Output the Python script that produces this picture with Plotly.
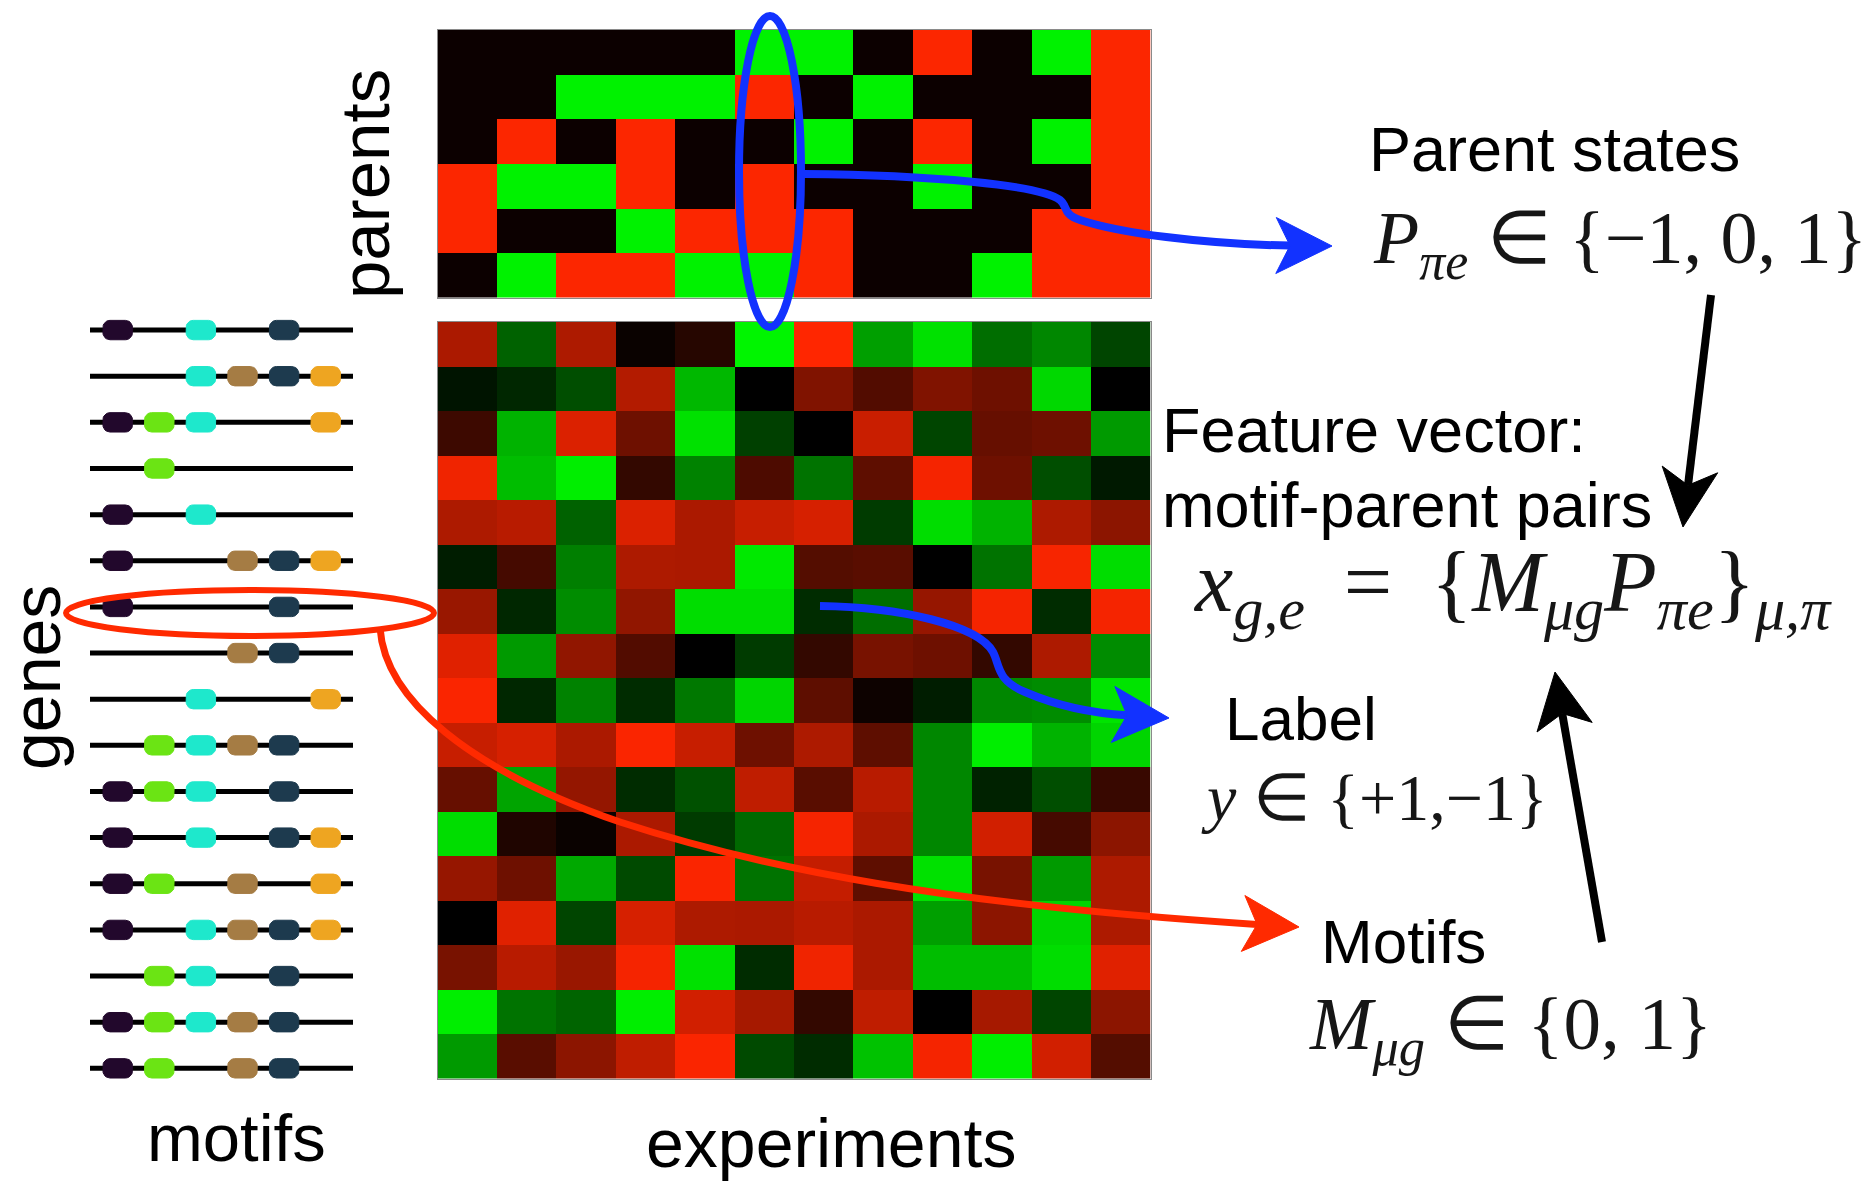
import math
import plotly.graph_objects as go

W, H = 1874, 1181

# ---------------- data ----------------
EXPERIMENTS = list(range(12))
PARENTS = list(range(6))
GENES = list(range(17))

# discrete parent states: -1 (repressed), 0 (neutral), 1 (induced)
PARENT_STATES = [
    [0, 0, 0, 0, 0, 1, 1, 0, -1, 0, 1, -1],
    [0, 0, 1, 1, 1, -1, 0, 1, 0, 0, 0, -1],
    [0, -1, 0, -1, 0, 0, 1, 0, -1, 0, 1, -1],
    [-1, 1, 1, -1, 0, -1, 0, 0, 1, 0, 0, -1],
    [-1, 0, 0, 1, -1, -1, -1, 0, 0, 0, -1, -1],
    [0, 1, -1, -1, 1, 1, -1, 0, 0, 1, -1, -1],
]

# gene expression (genes x experiments), negative = red, positive = green
EXPRESSION = [
    [-0.67, 0.40, -0.68, -0.04, -0.15, 1.00, -1.00, 0.65, 0.92, 0.45, 0.55, 0.28],
    [0.08, 0.16, 0.32, -0.70, 0.75, 0.00, -0.50, -0.32, -0.50, -0.43, 0.88, 0.00],
    [-0.24, 0.73, -0.86, -0.43, 0.92, 0.26, 0.00, -0.79, 0.28, -0.40, -0.43, 0.63],
    [-0.94, 0.77, 0.97, -0.20, 0.53, -0.30, 0.47, -0.37, -0.96, -0.43, 0.32, 0.10],
    [-0.68, -0.72, 0.40, -0.86, -0.67, -0.78, -0.84, 0.24, 0.90, 0.73, -0.68, -0.55],
    [0.12, -0.27, 0.52, -0.68, -0.67, 0.95, -0.33, -0.35, 0.00, 0.47, -0.97, 0.90],
    [-0.60, 0.16, 0.57, -0.57, 0.90, 0.90, 0.18, 0.45, -0.59, -0.96, 0.18, -0.96],
    [-0.88, 0.63, -0.57, -0.32, 0.00, 0.24, -0.20, -0.47, -0.43, -0.20, -0.68, 0.57],
    [-0.98, 0.16, 0.53, 0.18, 0.49, 0.87, -0.37, -0.05, 0.12, 0.55, 0.57, 0.93],
    [-0.78, -0.84, -0.67, -0.98, -0.78, -0.43, -0.68, -0.37, 0.55, 0.97, 0.73, 0.87],
    [-0.40, 0.67, -0.58, 0.18, 0.33, -0.75, -0.35, -0.72, 0.55, 0.14, 0.32, -0.22],
    [0.90, -0.12, -0.04, -0.67, 0.24, 0.43, -0.96, -0.67, 0.55, -0.82, -0.27, -0.55],
    [-0.59, -0.43, 0.69, 0.30, -0.98, 0.47, -0.77, -0.37, 0.92, -0.47, 0.63, -0.68],
    [0.00, -0.88, 0.28, -0.84, -0.68, -0.67, -0.72, -0.67, 0.65, -0.55, 0.87, -0.68],
    [-0.47, -0.72, -0.60, -0.96, 0.92, 0.18, -0.94, -0.67, 0.77, 0.77, 0.90, -0.88],
    [0.97, 0.47, 0.41, 0.97, -0.82, -0.65, -0.20, -0.75, 0.00, -0.65, 0.28, -0.55],
    [0.63, -0.35, -0.55, -0.75, -0.98, 0.30, 0.18, 0.79, -0.96, 0.97, -0.82, -0.33],
]

# motif colours, in promoter order
MOTIF_COLORS = ["#22082c", "#6be414", "#1ee8cc", "#a57c44", "#1d3a4e", "#eea521"]

# which motifs occur in each gene's promoter
GENE_MOTIFS = [
    [0, 2, 4],
    [2, 3, 4, 5],
    [0, 1, 2, 5],
    [1],
    [0, 2],
    [0, 3, 4, 5],
    [0, 4],
    [3, 4],
    [2, 5],
    [1, 2, 3, 4],
    [0, 1, 2, 4],
    [0, 2, 4, 5],
    [0, 1, 3, 5],
    [0, 2, 3, 4, 5],
    [1, 2, 4],
    [0, 1, 2, 3, 4],
    [0, 1, 3, 4],
]

# ---------------- styling ----------------
RED = "#ff2a00"
BLUE = "#1232ff"
SANS = "Liberation Sans, Arial, sans-serif"
SERIF = "Liberation Serif, Times New Roman, serif"
MATH_COLOR = "#161616"

EXPR_SCALE = [[0.0, "rgb(255,38,0)"], [0.5, "rgb(0,0,0)"], [1.0, "rgb(0,245,0)"]]
PARENT_SCALE = [[0.0, "rgb(252,38,0)"], [0.5, "rgb(12,0,0)"], [1.0, "rgb(0,242,0)"]]

PROMOTER_SPAN = (-0.666, 5.656)   # promoter backbone extent in motif-slot units
PILL_HX, PILL_HY = 0.355, 0.21    # half size of a motif box
PILL_RX, PILL_RY = 0.17, 0.15     # corner rounding


def pill(cx, cy):
    """Rounded box outline centred on (cx, cy)."""
    xs, ys = [], []
    corners = [
        (cx + PILL_HX - PILL_RX, cy - PILL_HY + PILL_RY, -90),
        (cx + PILL_HX - PILL_RX, cy + PILL_HY - PILL_RY, 0),
        (cx - PILL_HX + PILL_RX, cy + PILL_HY - PILL_RY, 90),
        (cx - PILL_HX + PILL_RX, cy - PILL_HY + PILL_RY, 180),
    ]
    for ox, oy, a0 in corners:
        for s in range(7):
            a = math.radians(a0 + 15 * s)
            xs.append(ox + PILL_RX * math.cos(a))
            ys.append(oy + PILL_RY * math.sin(a))
    xs.append(xs[0])
    ys.append(ys[0])
    return xs, ys


fig = go.Figure()

# parent state matrix
fig.add_trace(go.Heatmap(
    z=PARENT_STATES, x=EXPERIMENTS, y=PARENTS, zmin=-1, zmax=1,
    colorscale=PARENT_SCALE, showscale=False, hoverinfo="skip",
    xaxis="x", yaxis="y"))

# expression matrix
fig.add_trace(go.Heatmap(
    z=EXPRESSION, x=EXPERIMENTS, y=GENES, zmin=-1, zmax=1,
    colorscale=EXPR_SCALE, showscale=False, hoverinfo="skip",
    xaxis="x2", yaxis="y2"))

# promoter backbones
bx, by = [], []
for g in GENES:
    bx += [PROMOTER_SPAN[0], PROMOTER_SPAN[1], None]
    by += [g, g, None]
fig.add_trace(go.Scatter(
    x=bx, y=by, mode="lines", line=dict(color="black", width=5),
    hoverinfo="skip", showlegend=False, xaxis="x3", yaxis="y3"))

# motif boxes on each promoter
for k, col in enumerate(MOTIF_COLORS):
    mx, my = [], []
    for g, motifs in zip(GENES, GENE_MOTIFS):
        if k in motifs:
            px, py = pill(k, g)
            mx += px + [None]
            my += py + [None]
    fig.add_trace(go.Scatter(
        x=mx, y=my, mode="lines", fill="toself", fillcolor=col,
        line=dict(color=col, width=1), hoverinfo="skip", showlegend=False,
        xaxis="x3", yaxis="y3"))


# ---------------- layout ----------------
def dom_x(a, b):
    return [a / W, b / W]


def dom_y(top, bottom):
    return [1 - bottom / H, 1 - top / H]


hidden = dict(showgrid=False, zeroline=False, showticklabels=False, ticks="",
              fixedrange=True)
framed = dict(hidden, showline=True, mirror=True, linecolor="#8a8a8a", linewidth=1)

HM_X = dom_x(437.5, 1150.5)

fig.update_layout(
    width=W, height=H, autosize=False,
    margin=dict(l=0, r=0, t=0, b=0, pad=0),
    paper_bgcolor="white", plot_bgcolor="rgba(0,0,0,0)",
    showlegend=False,
    xaxis=dict(framed, domain=HM_X, range=[-0.5, 11.5], anchor="y"),
    yaxis=dict(framed, domain=dom_y(30, 297.5), range=[5.5, -0.5], anchor="x"),
    xaxis2=dict(framed, domain=HM_X, range=[-0.5, 11.5], anchor="y2"),
    yaxis2=dict(framed, domain=dom_y(322, 1078.5), range=[16.5, -0.5], anchor="x2"),
    xaxis3=dict(hidden, domain=dom_x(90, 353), range=list(PROMOTER_SPAN), anchor="y3"),
    yaxis3=dict(hidden, domain=dom_y(307, 1091.4), range=[16.5, -0.5], anchor="x3"),
    # full-canvas pixel frame for the schematic arrows and labels
    xaxis4=dict(hidden, domain=[0, 1], range=[0, W], anchor="y4"),
    yaxis4=dict(hidden, domain=[0, 1], range=[H, 0], anchor="x4"),
)


def arrow_head(tip, towards_from, length=56, half=28, notch=42):
    dx = tip[0] - towards_from[0]
    dy = tip[1] - towards_from[1]
    n = math.hypot(dx, dy)
    dx, dy = dx / n, dy / n
    bx_, by_ = tip[0] - length * dx, tip[1] - length * dy
    c1 = (bx_ - half * dy, by_ + half * dx)
    c2 = (bx_ + half * dy, by_ - half * dx)
    nt = (tip[0] - notch * dx, tip[1] - notch * dy)
    path = (f"M {tip[0]:.1f},{tip[1]:.1f} L {c1[0]:.1f},{c1[1]:.1f} "
            f"L {nt[0]:.1f},{nt[1]:.1f} L {c2[0]:.1f},{c2[1]:.1f} Z")
    return path, nt


shapes = []


def add_curve(path, color, width):
    shapes.append(dict(type="path", path=path, xref="x4", yref="y4",
                       line=dict(color=color, width=width), layer="above"))


def add_head(path, color):
    shapes.append(dict(type="path", path=path, xref="x4", yref="y4",
                       fillcolor=color, line=dict(color=color, width=1), layer="above"))


# blue ellipse around one experiment's parent states
shapes.append(dict(type="circle", xref="x4", yref="y4", x0=739, x1=801, y0=16, y1=327,
                   line=dict(color=BLUE, width=8), layer="above"))
# red ellipse around one gene's promoter
shapes.append(dict(type="circle", xref="x4", yref="y4", x0=66, x1=434, y0=590, y1=636,
                   line=dict(color=RED, width=6), layer="above"))

# parent states -> formula
h, nt = arrow_head((1332, 246), (1220, 245))
add_curve(f"M 804,174 C 930,175 1040,185 1060,200 C 1068,206 1062,214 1080,220 "
          f"C 1120,233 1200,244 {nt[0]:.1f},{nt[1]:.1f}", BLUE, 8)
add_head(h, BLUE)

# expression cell -> label
h, nt = arrow_head((1169, 718), (1090, 713))
add_curve(f"M 820,606 C 900,607 978,625 993,652 C 1000,665 996,680 1025,692 "
          f"C 1055,705 1090,713 {nt[0]:.1f},{nt[1]:.1f}", BLUE, 8)
add_head(h, BLUE)

# promoter -> motifs
h, nt = arrow_head((1299, 927), (950, 905))
add_curve(f"M 380,628 C 385,700 470,770 620,822 C 760,868 950,905 "
          f"{nt[0]:.1f},{nt[1]:.1f}", RED, 7)
add_head(h, RED)

# parent states -> feature vector
h, nt = arrow_head((1683, 527), (1711, 295), length=58)
add_curve(f"M 1711,295 L {nt[0]:.1f},{nt[1]:.1f}", "black", 8)
add_head(h, "black")

# motifs -> feature vector
h, nt = arrow_head((1555, 672), (1602, 942))
add_curve(f"M 1602,942 L {nt[0]:.1f},{nt[1]:.1f}", "black", 8)
add_head(h, "black")

fig.update_layout(shapes=shapes)


def label(text, x, y, size, xanchor="center", angle=0, family=SANS, color="black"):
    fig.add_annotation(text=text, x=x, y=y, xref="x4", yref="y4", showarrow=False,
                       xanchor=xanchor, yanchor="middle", textangle=angle,
                       font=dict(family=family, size=size, color=color))


# axis-style labels
label("parents", 365, 184, 69, angle=-90)
label("genes", 36, 678, 68, angle=-90)
label("motifs", 236, 1137, 67)
label("experiments", 831, 1143, 68)

# right-hand annotations
label("Parent states", 1554, 149, 63)
label("<i>P</i><sub><i>πe</i></sub> ∈ {−1, 0, 1}", 1371, 243, 74,
      xanchor="left", family=SERIF, color=MATH_COLOR)
label("Feature vector:", 1160, 430, 63, xanchor="left")
label("motif-parent pairs", 1160, 505, 63, xanchor="left")
label("<i>x</i><sub><i>g,e</i></sub>\u2009 = \u2009{<i>M</i><sub><i>μg</i></sub>"
      "<i>P</i><sub><i>πe</i></sub>}<sub><i>μ,π</i></sub>", 1191, 588, 86,
      xanchor="left", family=SERIF, color=MATH_COLOR)
label("Label", 1223, 718, 62, xanchor="left")
label("<i>y</i> ∈ {+1,−1}", 1199, 797, 66, xanchor="left", family=SERIF, color=MATH_COLOR)
label("Motifs", 1319, 941, 62, xanchor="left")
label("<i>M</i><sub><i>μg</i></sub> ∈ {0, 1}", 1307, 1029, 75,
      xanchor="left", family=SERIF, color=MATH_COLOR)

fig.write_html("out.html")
